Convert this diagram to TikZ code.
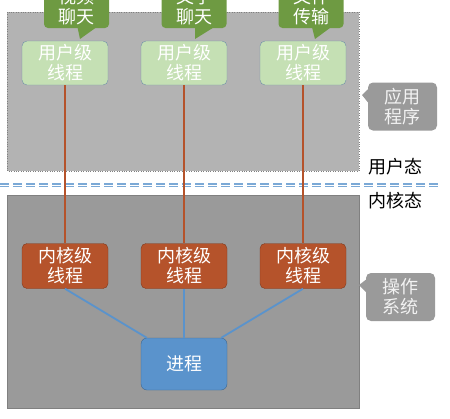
\documentclass[tikz,border=0pt]{standalone}
\usepackage{fontspec}
\newfontfamily\cjk{Noto Sans CJK SC}
\definecolor{lvqian}{HTML}{C5E0B4}
\definecolor{lvshen}{HTML}{6E9A42}
\definecolor{hongse}{HTML}{B5532B}
\definecolor{lanse}{HTML}{5A93CC}
\definecolor{biankuang}{HTML}{6E8FA8}
\definecolor{huishang}{HTML}{B3B3B3}
\definecolor{huixia}{HTML}{9A9A9A}
\begin{document}
\begin{tikzpicture}[x=1pt, y=-1pt,
  every node/.style={font=\cjk\fontsize{18}{20}\selectfont, align=center, inner sep=0pt},
  yonghu/.style={draw=biankuang, fill=lvqian, text=white, rounded corners=5pt, minimum width=86pt, minimum height=44pt},
  neihe/.style={draw=hongse!70!black, fill=hongse, text=white, rounded corners=5pt, minimum width=86pt, minimum height=45pt},
  jincheng/.style={draw=lanse!70!black, fill=lanse, text=white, rounded corners=6pt, minimum width=86pt, minimum height=52pt},
  lvkuang/.style={fill=lvshen, text=white, rounded corners=4pt, minimum width=65pt, minimum height=42pt},
  huikuang/.style={fill=huixia, text=white!95!black, rounded corners=5pt, minimum width=69pt, minimum height=48pt},
  zongxian/.style={draw=hongse, line width=2pt},
  lanxian/.style={draw=lanse, line width=1.8pt}
]
\useasboundingbox (0,0) rectangle (450,418);
\clip (0,0) rectangle (450,418);
% two areas
\draw[fill=huishang, draw=gray, dotted] (7,12) rectangle (359,171);
\draw[fill=huixia, draw=gray] (7,195) rectangle (359,408);
\draw[draw=lanse!80!white, line width=1.2pt, double=white, double distance=0.8pt, dash pattern=on 9pt off 4pt] (0,185) -- (440,185);

\node[yonghu] (u1) at (65,63) {用户级\\线程};
\node[yonghu] (u2) at (184,63) {用户级\\线程};
\node[yonghu] (u3) at (303,63) {用户级\\线程};

% green labels with pointer
\node[lvkuang] (c1) at (76.5,7) {视频\\聊天};
\node[lvkuang] (c2) at (194,7) {文字\\聊天};
\node[lvkuang] (c3) at (311,7) {文件\\传输};
\coordinate (t1) at (80,39);
\coordinate (t2) at (195,39);
\coordinate (t3) at (315,39);
\fill[lvshen] ([xshift=1pt, yshift=1pt]c1.south) -- ([xshift=20pt, yshift=1pt]c1.south) -- (t1) -- cycle;
\fill[lvshen] ([xshift=1pt, yshift=1pt]c2.south) -- ([xshift=20pt, yshift=1pt]c2.south) -- (t2) -- cycle;
\fill[lvshen] ([xshift=1pt, yshift=1pt]c3.south) -- ([xshift=20pt, yshift=1pt]c3.south) -- (t3) -- cycle;

\node[neihe] (k1) at (65,266) {内核级\\线程};
\node[neihe] (k2) at (184,266) {内核级\\线程};
\node[neihe] (k3) at (303,266) {内核级\\线程};

\node[jincheng] (p) at (184,364) {进程};

\draw[zongxian] (u1) -- (k1);
\draw[zongxian] (u2) -- (k2);
\draw[zongxian] (u3) -- (k3);

\draw[lanxian] (k1.south) -- ([xshift=6pt]p.north west);
\draw[lanxian] (k2.south) -- (p.north);
\draw[lanxian] (k3.south) -- ([xshift=-6pt]p.north east);

% grey labels with pointer
\node[huikuang] (yy) at (402.5,106.5) {应用\\程序};
\node[huikuang] (cz) at (400.5,297) {操作\\系统};
\coordinate (ty) at (362,95);
\coordinate (tc) at (359,285);
\fill[huixia] ([xshift=1pt, yshift=18pt]yy.west) -- ([xshift=1pt, yshift=3pt]yy.west) -- (ty) -- cycle;
\fill[huixia] ([xshift=1pt, yshift=18pt]cz.west) -- ([xshift=1pt, yshift=4pt]cz.west) -- (tc) -- cycle;

\node (yh) at (395,167) {用户态};
\node (nh) at (395,201) {内核态};
\end{tikzpicture}
\end{document}
